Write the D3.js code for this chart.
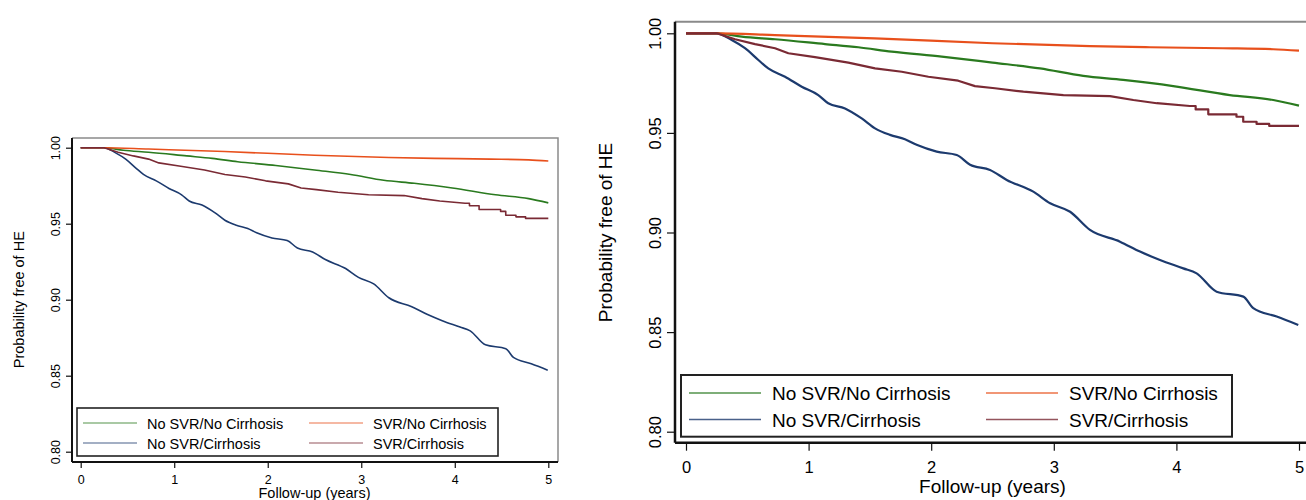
<!DOCTYPE html>
<html>
<head>
<meta charset="utf-8">
<script src="https://cdn.jsdelivr.net/npm/d3@7"></script>
<style>
  body { margin: 0; background: #fff; }
  svg { display: block; font-family: "Liberation Sans", Arial, sans-serif; }
</style>
</head>
<body>
<svg width="1306" height="500"></svg>
<script>
// Kaplan-Meier curves, [years, probability free of HE]
const noSvrNoCirr = [[0,1],[0.25,1],[0.455,0.9983],[0.726,0.997],[1.134,0.9946],[1.406,0.993],[1.678,0.9908],
  [2.086,0.9883],[2.5,0.9853],[2.887,0.9824],[3.24,0.9786],[3.566,0.9766],[3.974,0.9735],[4.436,0.969],[4.79,0.9665],[5,0.9637]];
const noSvrCirr = [[0,1],[0.25,1],[0.373,0.9966],[0.481,0.9925],[0.59,0.9866],[0.671,0.9824],[0.808,0.9782],[0.944,0.9732],
  [1.079,0.969],[1.16,0.9649],[1.297,0.9623],[1.433,0.9573],[1.542,0.9523],[1.664,0.949],[1.786,0.9468],[1.881,0.944],
  [2.045,0.9406],[2.208,0.9389],[2.317,0.934],[2.48,0.9314],[2.616,0.9264],[2.833,0.9205],[2.97,0.9147],[3.133,0.9104],
  [3.295,0.9013],[3.54,0.8954],[3.703,0.8904],[3.866,0.8862],[4.056,0.882],[4.165,0.8795],[4.328,0.8703],[4.546,0.8678],
  [4.627,0.862],[4.818,0.8578],[4.994,0.8536]];
const svrNoCirr = [[0,1],[0.25,1],[0.726,0.9991],[1.54,0.9975],[2.5,0.995],[3.295,0.9936],[3.785,0.993],[4.38,0.9925],[4.79,0.992],[5,0.9913]];
const svrCirr = [[0,1],[0.25,1],[0.4,0.997],[0.563,0.9946],[0.726,0.9925],[0.835,0.99],[1.052,0.988],[1.324,0.9853],
  [1.542,0.9824],[1.76,0.9807],[1.977,0.9782],[2.22,0.9762],[2.357,0.9735],[2.52,0.9724],[2.752,0.9707],[3.078,0.969],
  [3.458,0.9685],[3.649,0.9665],[3.84,0.9649],[4.11,0.9635],[4.157,0.9635],[4.157,0.9618],[4.26,0.9618],[4.26,0.9593],
  [4.49,0.9593],[4.49,0.9581],[4.545,0.9581],[4.545,0.9556],[4.654,0.9556],[4.654,0.9545],[4.757,0.9545],[4.757,0.9535],[5,0.9535]];

const groups = ['No SVR/No Cirrhosis', 'No SVR/Cirrhosis', 'SVR/No Cirrhosis', 'SVR/Cirrhosis'];
const groupData = [noSvrNoCirr, noSvrCirr, svrNoCirr, svrCirr];
const colors = ['#2a7a1f', '#1c3a6e', '#e8501c', '#7a2a34'];

const xTicks = [0, 1, 2, 3, 4, 5];
const yTicks = [0.80, 0.85, 0.90, 0.95, 1.00];

const svg = d3.select('svg');

// the same graph, twice: small on the left, bigger on the right
const panels = [
  { left: 72, top: 138, right: 558, bottom: 462, x0: 80.7, x5: 548.3, y80: 451.7, y100: 147.7,
    axisW: 2, frameW: 1.5, lineW: 1.6, tick: 6, tickFont: 12.5, font: 14.5,
    yLabGap: 12, xLabY: 22, titleX: 19, titleY: 497.5,
    legend: { x1: 77, y1: 408, x2: 498, y2: 456, rows: [423, 443], base: 5.5, cols: [83, 309], len: 54, gap: 10 } },
  { left: 675, top: 21.7, right: 1310, bottom: 442.7, x0: 686, x5: 1299, y80: 431.7, y100: 33.3,
    axisW: 2.5, frameW: 2, lineW: 2.2, tick: 8, tickFont: 16.5, font: 19,
    yLabGap: 14, xLabY: 30, titleX: 605, titleY: 492.5,
    legend: { x1: 681, y1: 375, x2: 1232, y2: 436.7, rows: [393, 419.5], base: 7, cols: [689, 986], len: 72, gap: 11 } }
];

panels.forEach(p => {
  const g = svg.append('g');
  const x = d3.scaleLinear().domain([0, 5]).range([p.x0, p.x5]);
  const y = d3.scaleLinear().domain([0.8, 1]).range([p.y80, p.y100]);

  // gray outline of the plot region (top and right)
  g.append('path')
    .attr('d', `M${p.left},${p.top}H${p.right}V${p.bottom}`)
    .attr('fill', 'none').attr('stroke', '#8a8a8a').attr('stroke-width', p.frameW);

  const smooth = d3.line().x(d => x(d[0])).y(d => y(d[1])).curve(d3.curveMonotoneX);
  const steps = d3.line().x(d => x(d[0])).y(d => y(d[1]));
  groupData.forEach((d, i) => {
    g.append('path')
      .datum(d)
      .attr('d', d === svrCirr ? steps : smooth)
      .attr('fill', 'none')
      .attr('stroke', colors[i])
      .attr('stroke-width', p.lineW)
      .attr('stroke-linejoin', 'round');
  });

  // y axis
  const yAxis = g.append('g')
    .attr('transform', `translate(${p.left},0)`)
    .call(d3.axisLeft(y).tickValues(yTicks).tickFormat(d3.format('.2f')).tickSize(p.tick).tickSizeOuter(0));
  yAxis.select('.domain').attr('d', `M0,${p.top}V${p.bottom}`).attr('stroke', '#111').attr('stroke-width', p.axisW);
  yAxis.selectAll('.tick line').attr('stroke', '#111').attr('stroke-width', 1.2);
  yAxis.selectAll('.tick text')
    .attr('transform', 'rotate(-90)')
    .attr('text-anchor', 'middle')
    .attr('x', 0).attr('y', -p.yLabGap).attr('dy', 0)
    .attr('font-size', p.tickFont).attr('font-family', null).attr('fill', '#000');

  // x axis
  const xAxis = g.append('g')
    .attr('transform', `translate(0,${p.bottom})`)
    .call(d3.axisBottom(x).tickValues(xTicks).tickFormat(d3.format('d')).tickSize(p.tick).tickSizeOuter(0));
  xAxis.select('.domain').attr('d', `M${p.left},0H${p.right}`).attr('stroke', '#111').attr('stroke-width', p.axisW);
  xAxis.selectAll('.tick line').attr('stroke', '#111').attr('stroke-width', 1.2);
  xAxis.selectAll('.tick text')
    .attr('y', p.xLabY).attr('dy', 0)
    .attr('font-size', p.tickFont).attr('font-family', null).attr('fill', '#000');

  // axis titles
  g.append('text')
    .attr('transform', `translate(${p.titleX + p.font * 0.36},${(p.y80 + p.y100) / 2}) rotate(-90)`)
    .attr('text-anchor', 'middle')
    .attr('font-size', p.font)
    .text('Probability free of HE');
  g.append('text')
    .attr('x', (p.x0 + p.x5) / 2).attr('y', p.titleY)
    .attr('text-anchor', 'middle')
    .attr('font-size', p.font)
    .text('Follow-up (years)');

  // legend, two columns
  const L = p.legend;
  g.append('rect')
    .attr('x', L.x1).attr('y', L.y1).attr('width', L.x2 - L.x1).attr('height', L.y2 - L.y1)
    .attr('fill', '#fff').attr('stroke', '#222').attr('stroke-width', p.axisW * 0.8);
  const order = [0, 2, 1, 3];
  order.forEach((gi, k) => {
    const cx = L.cols[k % 2], cy = L.rows[Math.floor(k / 2)];
    g.append('line')
      .attr('x1', cx).attr('x2', cx + L.len).attr('y1', cy).attr('y2', cy)
      .attr('stroke', colors[gi]).attr('stroke-width', p.lineW * 0.75).attr('opacity', 0.8);
    g.append('text')
      .attr('x', cx + L.len + L.gap).attr('y', cy + L.base)
      .attr('font-size', p.font)
      .text(groups[gi]);
  });
});
</script>
</body>
</html>
